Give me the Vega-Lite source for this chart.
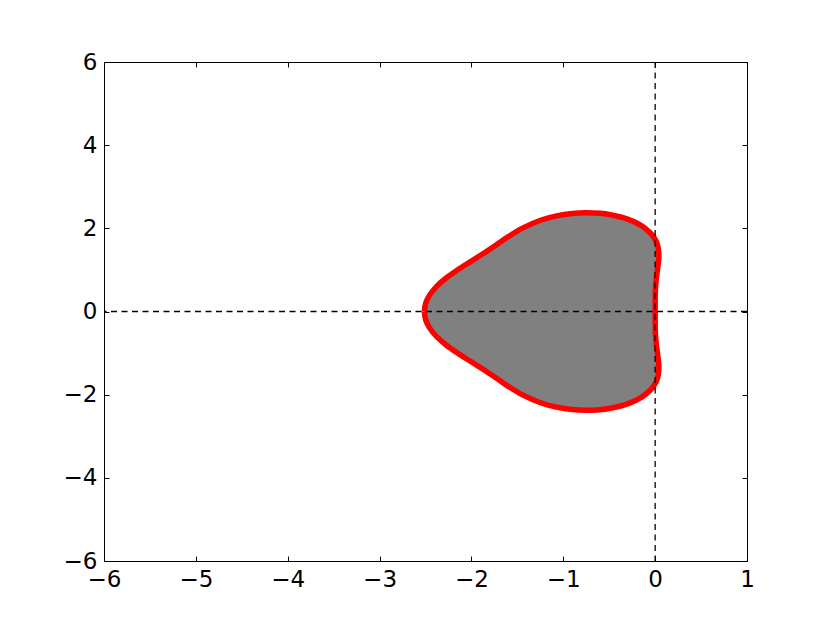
{
  "$schema": "https://vega.github.io/schema/vega-lite/v6.json",
  "width": 643,
  "height": 499,
  "autosize": "none",
  "padding": {"left": 104, "top": 62, "right": 83, "bottom": 62},
  "background": "white",
  "config": {
    "view": {"stroke": "black", "strokeWidth": 1},
    "axis": {
      "domain": false,
      "grid": false,
      "labelFont": "DejaVu Sans",
      "labelFontSize": 23,
      "labelColor": "black",
      "labelFlush": false,
      "labelOverlap": false,
      "tickColor": "black",
      "tickSize": -5,
      "tickWidth": 1,
      "labelPadding": 12,
      "title": null
    }
  },
  "datasets": {
    "fill": [
      {"y": 2.375, "xl": -0.755, "xr": -0.755},
      {"y": 2.358, "xl": -0.9, "xr": -0.6},
      {"y": 2.33, "xl": -1.0, "xr": -0.5},
      {"y": 2.3, "xl": -1.073, "xr": -0.44},
      {"y": 2.2, "xl": -1.24, "xr": -0.28},
      {"y": 2.1, "xl": -1.35, "xr": -0.185},
      {"y": 2.0, "xl": -1.449, "xr": -0.112},
      {"y": 1.9, "xl": -1.527, "xr": -0.057},
      {"y": 1.8, "xl": -1.599, "xr": -0.019},
      {"y": 1.7, "xl": -1.665, "xr": 0.0075},
      {"y": 1.6, "xl": -1.731, "xr": 0.026},
      {"y": 1.45, "xl": -1.832, "xr": 0.038},
      {"y": 1.3, "xl": -1.938, "xr": 0.04},
      {"y": 1.2, "xl": -2.01, "xr": 0.0365},
      {"y": 1.0, "xl": -2.152, "xr": 0.025},
      {"y": 0.8, "xl": -2.279, "xr": 0.013},
      {"y": 0.6, "xl": -2.381, "xr": 0.0047},
      {"y": 0.4, "xl": -2.454, "xr": 0.001},
      {"y": 0.2, "xl": -2.498, "xr": 0},
      {"y": 0, "xl": -2.513, "xr": 0},
      {"y": -0.2, "xl": -2.498, "xr": 0},
      {"y": -0.4, "xl": -2.454, "xr": 0.001},
      {"y": -0.6, "xl": -2.381, "xr": 0.0047},
      {"y": -0.8, "xl": -2.279, "xr": 0.013},
      {"y": -1.0, "xl": -2.152, "xr": 0.025},
      {"y": -1.2, "xl": -2.01, "xr": 0.0365},
      {"y": -1.3, "xl": -1.938, "xr": 0.04},
      {"y": -1.45, "xl": -1.832, "xr": 0.038},
      {"y": -1.6, "xl": -1.731, "xr": 0.026},
      {"y": -1.7, "xl": -1.665, "xr": 0.0075},
      {"y": -1.8, "xl": -1.599, "xr": -0.019},
      {"y": -1.9, "xl": -1.527, "xr": -0.057},
      {"y": -2.0, "xl": -1.449, "xr": -0.112},
      {"y": -2.1, "xl": -1.35, "xr": -0.185},
      {"y": -2.2, "xl": -1.24, "xr": -0.28},
      {"y": -2.3, "xl": -1.073, "xr": -0.44},
      {"y": -2.33, "xl": -1.0, "xr": -0.5},
      {"y": -2.358, "xl": -0.9, "xr": -0.6},
      {"y": -2.375, "xl": -0.755, "xr": -0.755}
    ],
    "outline": [
      {"i": 0, "x": -2.513, "y": 0},
      {"i": 1, "x": -2.498, "y": 0.2},
      {"i": 2, "x": -2.454, "y": 0.4},
      {"i": 3, "x": -2.381, "y": 0.6},
      {"i": 4, "x": -2.279, "y": 0.8},
      {"i": 5, "x": -2.152, "y": 1.0},
      {"i": 6, "x": -2.01, "y": 1.2},
      {"i": 7, "x": -1.866, "y": 1.4},
      {"i": 8, "x": -1.731, "y": 1.6},
      {"i": 9, "x": -1.599, "y": 1.8},
      {"i": 10, "x": -1.449, "y": 2.0},
      {"i": 11, "x": -1.24, "y": 2.2},
      {"i": 12, "x": -1.073, "y": 2.3},
      {"i": 13, "x": -0.9, "y": 2.358},
      {"i": 14, "x": -0.755, "y": 2.375},
      {"i": 15, "x": -0.6, "y": 2.36},
      {"i": 16, "x": -0.5, "y": 2.332},
      {"i": 17, "x": -0.3, "y": 2.221},
      {"i": 18, "x": -0.15, "y": 2.064},
      {"i": 19, "x": -0.057, "y": 1.9},
      {"i": 20, "x": -0.019, "y": 1.8},
      {"i": 21, "x": 0.0075, "y": 1.7},
      {"i": 22, "x": 0.026, "y": 1.6},
      {"i": 23, "x": 0.038, "y": 1.45},
      {"i": 24, "x": 0.04, "y": 1.3},
      {"i": 25, "x": 0.0365, "y": 1.2},
      {"i": 26, "x": 0.025, "y": 1.0},
      {"i": 27, "x": 0.013, "y": 0.8},
      {"i": 28, "x": 0.0047, "y": 0.6},
      {"i": 29, "x": 0.001, "y": 0.4},
      {"i": 30, "x": 0, "y": 0.2},
      {"i": 31, "x": 0, "y": 0},
      {"i": 32, "x": 0, "y": -0.2},
      {"i": 33, "x": 0.001, "y": -0.4},
      {"i": 34, "x": 0.0047, "y": -0.6},
      {"i": 35, "x": 0.013, "y": -0.8},
      {"i": 36, "x": 0.025, "y": -1.0},
      {"i": 37, "x": 0.0365, "y": -1.2},
      {"i": 38, "x": 0.04, "y": -1.3},
      {"i": 39, "x": 0.038, "y": -1.45},
      {"i": 40, "x": 0.026, "y": -1.6},
      {"i": 41, "x": 0.0075, "y": -1.7},
      {"i": 42, "x": -0.019, "y": -1.8},
      {"i": 43, "x": -0.057, "y": -1.9},
      {"i": 44, "x": -0.15, "y": -2.064},
      {"i": 45, "x": -0.3, "y": -2.221},
      {"i": 46, "x": -0.5, "y": -2.332},
      {"i": 47, "x": -0.6, "y": -2.36},
      {"i": 48, "x": -0.755, "y": -2.375},
      {"i": 49, "x": -0.9, "y": -2.358},
      {"i": 50, "x": -1.073, "y": -2.3},
      {"i": 51, "x": -1.24, "y": -2.2},
      {"i": 52, "x": -1.449, "y": -2.0},
      {"i": 53, "x": -1.599, "y": -1.8},
      {"i": 54, "x": -1.731, "y": -1.6},
      {"i": 55, "x": -1.866, "y": -1.4},
      {"i": 56, "x": -2.01, "y": -1.2},
      {"i": 57, "x": -2.152, "y": -1.0},
      {"i": 58, "x": -2.279, "y": -0.8},
      {"i": 59, "x": -2.381, "y": -0.6},
      {"i": 60, "x": -2.454, "y": -0.4},
      {"i": 61, "x": -2.498, "y": -0.2},
      {"i": 62, "x": -2.513, "y": 0}
    ]
  },
  "layer": [
    {
      "data": {"name": "fill"},
      "mark": {"type": "area", "orient": "horizontal", "interpolate": "catmull-rom", "color": "#808080", "opacity": 1},
      "encoding": {
        "y": {"field": "y", "type": "quantitative", "scale": {"domain": [-6, 6], "nice": false, "zero": false}, "axis": {"orient": "left", "values": [-6, -4, -2, 0, 2, 4, 6]}},
        "x": {"field": "xl", "type": "quantitative", "scale": {"domain": [-6, 1], "nice": false, "zero": false}, "axis": {"orient": "bottom", "values": [-6, -5, -4, -3, -2, -1, 0, 1]}},
        "x2": {"field": "xr"}
      }
    },
    {
      "data": {"name": "outline"},
      "mark": {"type": "line", "interpolate": "catmull-rom", "color": "#ff0000", "strokeWidth": 5.5, "strokeJoin": "round"},
      "encoding": {
        "x": {"field": "x", "type": "quantitative", "axis": null},
        "y": {"field": "y", "type": "quantitative", "axis": null},
        "order": {"field": "i"}
      }
    },
    {
      "data": {"values": [{}]},
      "mark": {"type": "rule", "strokeDash": [6, 4.5], "color": "black", "strokeWidth": 1.3},
      "encoding": {
        "y": {"datum": 0, "type": "quantitative", "axis": {"orient": "right", "labels": false, "values": [-6, -4, -2, 0, 2, 4, 6]}}
      }
    },
    {
      "data": {"values": [{}]},
      "mark": {"type": "rule", "strokeDash": [6, 4.5], "color": "black", "strokeWidth": 1.3},
      "encoding": {
        "x": {"datum": 0, "type": "quantitative", "axis": {"orient": "top", "labels": false, "values": [-6, -5, -4, -3, -2, -1, 0, 1]}}
      }
    }
  ],
  "resolve": {"axis": {"x": "independent", "y": "independent"}}
}
